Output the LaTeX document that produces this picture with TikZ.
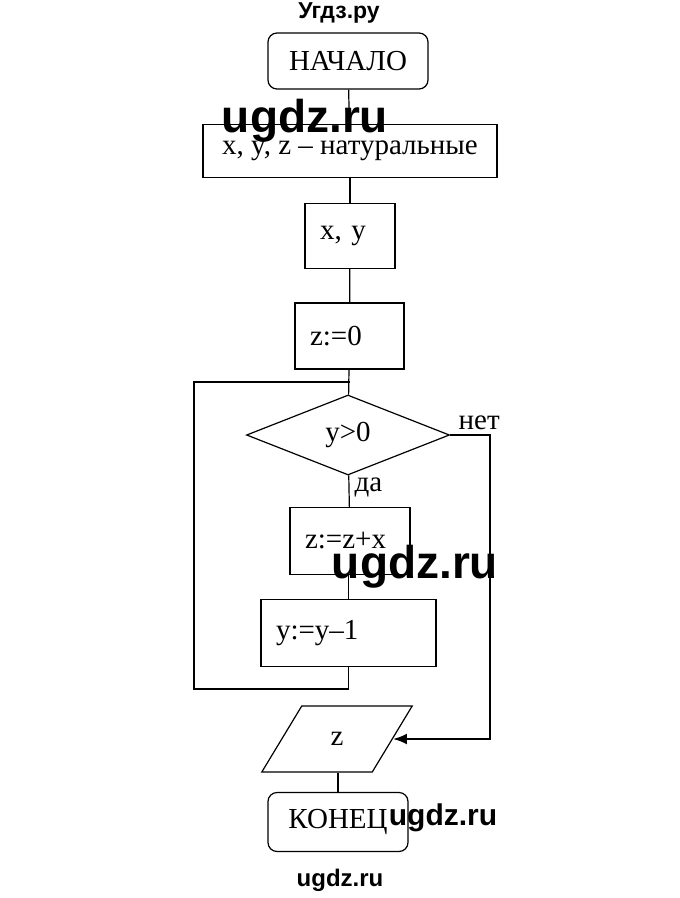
\documentclass[tikz,border=0pt]{standalone}
\usepackage{fontspec}
\setmainfont{Liberation Serif}
\newfontfamily\wmfont{Liberation Sans}
\usetikzlibrary{shapes.geometric,arrows.meta}

\begin{document}
\begin{tikzpicture}[x=1pt,y=-1pt,line width=1.2pt,
  every node/.style={font=\fontsize{29}{33}\selectfont},
  term/.style={draw,rounded corners=9pt,minimum width=160pt,minimum height=56pt},
  blk/.style={draw,inner xsep=15pt,align=left},
  cond/.style={draw,diamond,aspect=2.5,inner sep=0pt,minimum width=203pt,minimum height=80pt},
  io/.style={draw,trapezium,trapezium left angle=61,trapezium right angle=119,trapezium stretches=true,minimum width=151pt,minimum height=66pt},
  wm/.style={font=\wmfont\bfseries\fontsize{#1}{#1}\selectfont}]
\useasboundingbox (0,0) rectangle (680,898);
\node[term] (start) at (348,61) {НАЧАЛО};
  \node[draw,minimum width=294pt,minimum height=53pt] (decl) at (350,151) {x, y, z -- натуральные};
  \node[blk,text width=60pt,minimum height=65pt] (inp) at (350,236) {x, y};
  \node[blk,text width=79pt,minimum height=66pt] (init) at (349.5,336) {z:=0};
  \node[cond] (test) at (348,435) {y>0};
  \node[blk,text width=90pt,minimum height=67pt] (addx) at (350,541) {z:=z+x};
  \node[blk,text width=145pt,minimum height=67pt] (decy) at (348.5,633) {y:=y--1};
  \node[io] (out) at (337,739) {z};
  \node[term,minimum width=140pt,minimum height=59pt] (stop) at (338,822) {КОНЕЦ};
\node[anchor=north west,inner xsep=6pt,inner ysep=2pt] (yes) at (test.south) {да};
\node[anchor=south west,inner xsep=8pt,inner ysep=5pt] (no) at (test.east) {нет};
\coordinate (noR) at (490,435);
\coordinate (loopB) at (194,689);
\coordinate (loopT) at (194,382);
\draw (start) -- (decl);
\draw (decl) -- (inp);
\draw (inp) -- (init);
\draw (init) -- (test);
\draw (test) -- (addx);
\draw (addx.south -| decy.north) -- (decy.north);
\draw (decy.south) |- (loopB) -- (loopT) -- (init.south |- loopT);
\draw[line width=2.2pt,-{Latex[length=14pt,width=11pt]}] (test.east) -- (noR) |- (out.east);
\draw (stop.north) -- (stop.north |- out.south);
\node[wm=23] (wm1) at (339,13) {Угдз.ру};
\node[wm=46] (wm2) at (305,121) {ugdz.ru};
\node[wm=46] (wm3) at (415,567) {ugdz.ru};
\node[wm=30] (wm4) at (443,818) {ugdz.ru};
\node[wm=24] (wm5) at (340,880) {ugdz.ru};
\end{tikzpicture}
\end{document}
